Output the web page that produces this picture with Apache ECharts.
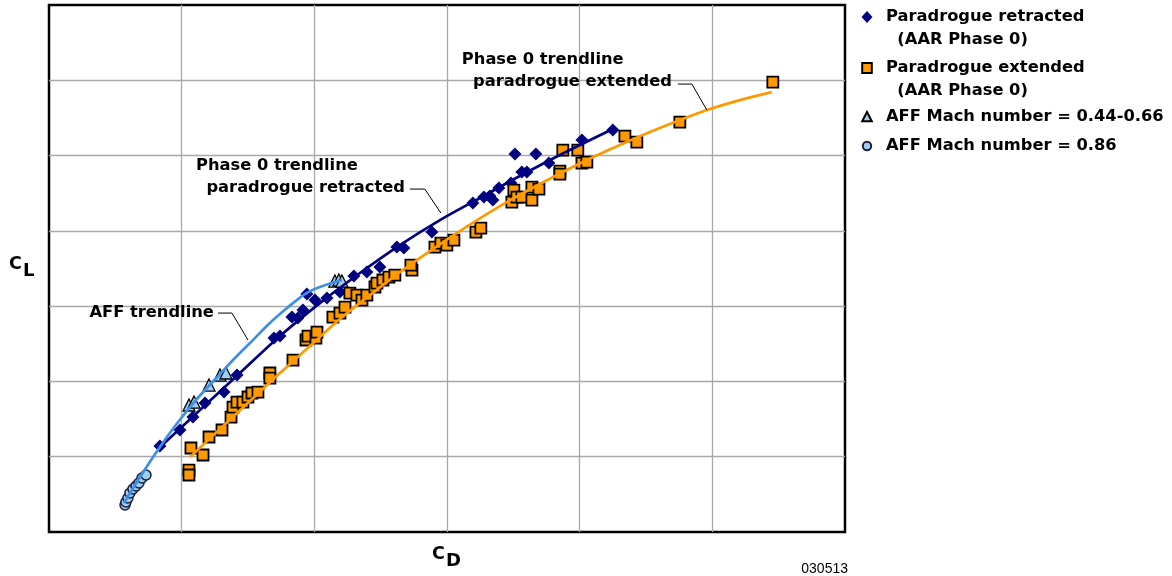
<!DOCTYPE html>
<html>
<head>
<meta charset="utf-8">
<script src="https://cdn.jsdelivr.net/npm/echarts@6/dist/echarts.min.js"></script>
<style>
  html, body { margin: 0; padding: 0; background: #ffffff; }
  #chart { width: 1172px; height: 576px; }
</style>
</head>
<body>
<div id="chart"></div>
<script>
// Drag coefficient (C_D) vs lift coefficient (C_L), in grid units (axes carry no numbers)
const xRange = { min: 0, max: 6, interval: 1 };
const yRange = { min: 0, max: 7, interval: 1 };

// Paradrogue retracted (AAR Phase 0)
const retractedPts = [
  [0.836, 1.142], [0.987, 1.355], [1.085, 1.527], [1.176, 1.713], [1.319, 1.859],
  [1.417, 2.085], [1.696, 2.576], [1.741, 2.603], [1.831, 2.855], [1.876, 2.842],
  [1.914, 2.948], [1.944, 3.161], [2.005, 3.081], [2.095, 3.108], [2.193, 3.187],
  [2.298, 3.400], [2.396, 3.453], [2.494, 3.519], [2.622, 3.785], [2.675, 3.772],
  [2.886, 3.984], [3.195, 4.369], [3.278, 4.449], [3.323, 4.462], [3.346, 4.409],
  [3.391, 4.568], [3.482, 4.635], [3.512, 5.020], [3.564, 4.781], [3.602, 4.781],
  [3.670, 5.020], [3.768, 4.900], [4.017, 5.206], [4.250, 5.339]
];

// Paradrogue extended (AAR Phase 0)
const extendedPts = [
  [1.055, 0.823], [1.055, 0.757], [1.070, 1.116], [1.161, 1.023], [1.206, 1.262],
  [1.304, 1.355], [1.372, 1.527], [1.387, 1.660], [1.417, 1.726], [1.462, 1.726],
  [1.500, 1.793], [1.530, 1.846], [1.575, 1.859], [1.665, 2.112], [1.665, 2.045],
  [1.839, 2.284], [1.937, 2.550], [1.952, 2.603], [2.012, 2.576], [2.020, 2.656],
  [2.140, 2.855], [2.193, 2.908], [2.231, 2.988], [2.268, 3.174], [2.321, 3.147],
  [2.359, 3.081], [2.396, 3.147], [2.457, 3.254], [2.472, 3.307], [2.517, 3.347],
  [2.562, 3.386], [2.607, 3.413], [2.736, 3.479], [2.728, 3.546], [2.909, 3.785],
  [2.954, 3.838], [2.999, 3.811], [3.052, 3.878], [3.218, 3.984], [3.255, 4.037],
  [3.489, 4.382], [3.504, 4.542], [3.527, 4.449], [3.564, 4.449], [3.640, 4.409],
  [3.640, 4.582], [3.693, 4.555], [3.851, 4.794], [3.851, 4.754], [3.873, 5.073],
  [3.986, 5.073], [4.017, 4.900], [4.054, 4.914], [4.341, 5.259], [4.431, 5.179],
  [4.755, 5.445], [5.456, 5.976]
];

// AFF, Mach 0.44-0.66
const affLowMachPts = [
  [1.055, 1.687], [1.093, 1.726], [1.206, 1.952], [1.289, 2.085], [1.334, 2.112],
  [2.155, 3.333], [2.185, 3.347], [2.208, 3.333]
];

// AFF, Mach 0.86
const affHighMachPts = [
  [0.573, 0.359], [0.580, 0.398], [0.595, 0.452], [0.610, 0.518], [0.633, 0.571],
  [0.656, 0.611], [0.678, 0.651], [0.701, 0.717], [0.731, 0.757]
];

// Trendlines
const retractedTrend = [
  [0.821, 1.102], [1.138, 1.620], [1.439, 2.112], [1.741, 2.603], [2.042, 3.040],
  [2.344, 3.440], [2.645, 3.811], [2.947, 4.143], [3.248, 4.436], [3.549, 4.728],
  [3.851, 5.007], [4.250, 5.352]
];
const extendedTrend = [
  [1.063, 0.996], [1.289, 1.368], [1.515, 1.740], [1.741, 2.112], [1.967, 2.470],
  [2.193, 2.829], [2.419, 3.147], [2.645, 3.453], [2.871, 3.732], [3.097, 3.997],
  [3.399, 4.329], [3.700, 4.622], [4.024, 4.914], [4.303, 5.139], [4.604, 5.365],
  [4.959, 5.604], [5.207, 5.737], [5.448, 5.843]
];
const affTrend = [
  [0.565, 0.385], [0.686, 0.730], [0.836, 1.129], [0.950, 1.408], [1.063, 1.660],
  [1.176, 1.886], [1.289, 2.098], [1.402, 2.311], [1.515, 2.510], [1.665, 2.776],
  [1.794, 2.975], [1.929, 3.161], [2.042, 3.254], [2.208, 3.347]
];

// Series names (legend labels)
const nameRetracted = 'Paradrogue retracted\n  (AAR Phase 0)';
const nameExtended = 'Paradrogue extended\n  (AAR Phase 0)';
const nameAffLow = 'AFF Mach number = 0.44-0.66';
const nameAffHigh = 'AFF Mach number = 0.86';

// Trendline callouts: text lines and leader polylines, in data units
const callouts = [
  {
    lines: [
      { text: 'Phase 0 trendline', at: [1.108, 4.86], align: 'left' },
      { text: 'paradrogue retracted', at: [2.683, 4.57], align: 'right' }
    ],
    leader: [[2.720, 4.555], [2.833, 4.555], [2.954, 4.236]]
  },
  {
    lines: [
      { text: 'Phase 0 trendline', at: [3.112, 6.268], align: 'left' },
      { text: 'paradrogue extended', at: [4.695, 5.976], align: 'right' }
    ],
    leader: [[4.740, 5.950], [4.846, 5.950], [4.959, 5.604]]
  },
  {
    lines: [
      { text: 'AFF trendline', at: [1.243, 2.908], align: 'right' }
    ],
    leader: [[1.274, 2.908], [1.379, 2.908], [1.500, 2.550]]
  }
];

const NAVY = '#000080';
const ORANGE = '#ff9900';
const SKY = '#3f8fe8';
const PALE = '#9fcdf2';
const FONT = 'DejaVu Sans';
const FONT_SIZE = 16.3;

const chart = echarts.init(document.getElementById('chart'), null, { renderer: 'canvas' });

const axisCommon = {
  type: 'value',
  axisLabel: { show: false },
  axisTick: { show: false },
  axisLine: { show: false },
  splitLine: { show: true, showMinLine: false, showMaxLine: false,
               lineStyle: { color: '#a8a8a8', width: 1.3 } }
};

const legendText = { fontFamily: FONT, fontWeight: 'bold', fontSize: FONT_SIZE, color: '#000', lineHeight: 23 };

const option = {
  backgroundColor: '#ffffff',
  animation: false,
  grid: {
    left: 49, right: 327, top: 5, bottom: 44,
    show: true, borderColor: '#000', borderWidth: 2.5, backgroundColor: 'transparent'
  },
  xAxis: Object.assign({}, axisCommon, xRange),
  yAxis: Object.assign({}, axisCommon, yRange),
  legend: [
    {
      orient: 'vertical', left: 860, top: 5.5, padding: 0, itemGap: 4,
      itemWidth: 20, itemHeight: 46, selectedMode: false,
      textStyle: legendText,
      data: [
        { name: nameRetracted, icon: 'path://M6,5.5L11.5,11.5L6,17.5L0.5,11.5Z M0,0 M20,46' },
        { name: nameExtended, icon: 'path://M1.2,6.5L10.8,6.5L10.8,16.5L1.2,16.5Z M0,0 M20,46' }
      ]
    },
    {
      orient: 'vertical', left: 860, top: 104.5, padding: 0, itemGap: 4,
      itemWidth: 20, itemHeight: 23, selectedMode: false,
      textStyle: legendText,
      data: [
        { name: nameAffLow, icon: 'path://M6,6.5L10.8,15.8L1.2,15.8Z M0,0 M20,23' },
        { name: nameAffHigh, icon: 'path://M1.8,11.5A4.2,4.2,0,1,1,10.2,11.5A4.2,4.2,0,1,1,1.8,11.5Z M0,0 M20,23' }
      ]
    }
  ],
  series: [
    {
      name: nameRetracted, type: 'scatter', data: retractedPts,
      symbol: 'diamond', symbolSize: 13,
      itemStyle: { color: NAVY, borderWidth: 0, opacity: 1 }
    },
    {
      name: nameExtended, type: 'scatter', data: extendedPts,
      symbol: 'rect', symbolSize: 11,
      itemStyle: { color: ORANGE, borderColor: '#000', borderWidth: 1.8, opacity: 1 }
    },
    {
      name: nameAffLow, type: 'scatter', data: affLowMachPts,
      symbol: 'triangle', symbolSize: 12,
      itemStyle: { color: PALE, borderColor: '#000', borderWidth: 1.3, opacity: 1 }
    },
    {
      name: nameAffHigh, type: 'scatter', data: affHighMachPts,
      symbol: 'circle', symbolSize: 10,
      itemStyle: { color: PALE, borderColor: '#1c1c3c', borderWidth: 1.5, opacity: 1 }
    },
    {
      name: 'retracted trend', type: 'line', data: retractedTrend, smooth: 0.3,
      showSymbol: false, lineStyle: { color: NAVY, width: 2.7 }, z: 3
    },
    {
      name: 'extended trend', type: 'line', data: extendedTrend, smooth: 0.3,
      showSymbol: false, lineStyle: { color: ORANGE, width: 2.7 }, z: 3
    },
    {
      name: 'AFF trend', type: 'line', data: affTrend, smooth: 0.3,
      showSymbol: false, lineStyle: { color: SKY, width: 2.7 }, z: 3
    }
  ]
};

chart.setOption(option);

// Callouts and axis titles, placed through the grid's coordinate system
const toPx = p => chart.convertToPixel({ gridIndex: 0 }, p);
const graphics = [];
const calloutFont = { fontFamily: FONT, fontWeight: 'bold', fontSize: FONT_SIZE, fill: '#000' };

callouts.forEach(c => {
  c.lines.forEach(l => {
    const p = toPx(l.at);
    graphics.push({
      type: 'text', x: p[0], y: p[1], z: 10,
      style: Object.assign({ text: l.text, align: l.align, verticalAlign: 'middle' }, calloutFont)
    });
  });
  graphics.push({
    type: 'polyline', z: 10,
    shape: { points: c.leader.map(toPx) },
    style: { stroke: '#000', lineWidth: 1, fill: null }
  });
});

// Axis titles: C_L on the left, C_D below
graphics.push(
  { type: 'text', left: 9, top: 255, style: { text: 'C', fontFamily: FONT, fontWeight: 'bold', fontSize: 17.5, fill: '#000' } },
  { type: 'text', left: 23, top: 262, style: { text: 'L', fontFamily: FONT, fontWeight: 'bold', fontSize: 18, fill: '#000' } },
  { type: 'text', left: 432, top: 545, style: { text: 'C', fontFamily: FONT, fontWeight: 'bold', fontSize: 17.5, fill: '#000' } },
  { type: 'text', left: 446, top: 552, style: { text: 'D', fontFamily: FONT, fontWeight: 'bold', fontSize: 18, fill: '#000' } },
  { type: 'text', right: 324, bottom: 0, style: { text: '030513', fontFamily: 'Liberation Sans', fontSize: 14, fill: '#000' } }
);

chart.setOption({ graphic: graphics });
</script>
</body>
</html>
